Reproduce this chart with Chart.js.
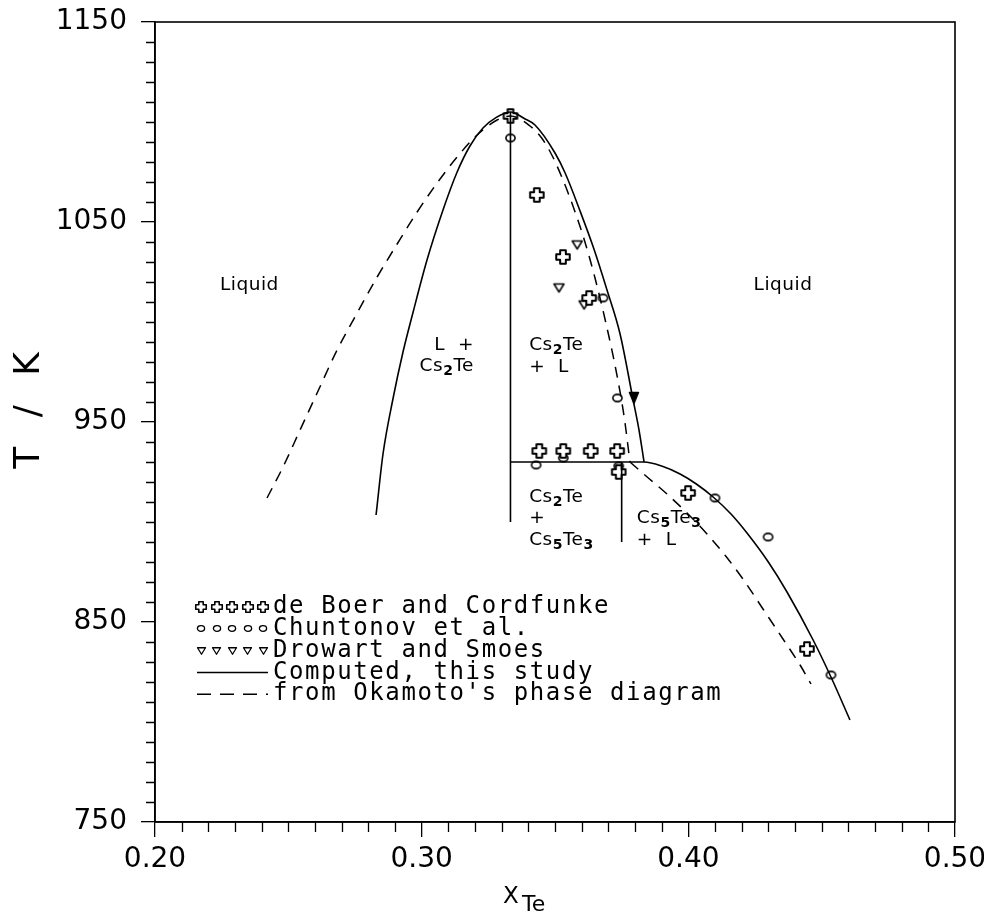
<!DOCTYPE html>
<html><head><meta charset="utf-8">
<script src="https://cdn.jsdelivr.net/npm/chart.js@4.4.1/dist/chart.umd.min.js"></script>
<style>html,body{margin:0;padding:0;background:#fff}</style>
</head><body>
<canvas id="c" width="984" height="913" style="width:984px;height:913px;display:block"></canvas>
<script>
// ---------------- data (x = mole fraction Te, T in K) ----------------
const computedCs2TeX = [0.2829,0.2855,0.2893,0.2930,0.2968,0.3020,0.3080,0.3133,0.3181,0.3230,0.3280,0.3333,0.3388,0.3425,0.3500,0.3538,0.3594,0.3646,0.3695,0.3744,0.3793,0.3815,0.3834];
const computedCs2TeT = [903.5,934,962,985,1005,1031,1056,1075,1088,1097,1102.3,1105,1101.5,1098.5,1084.5,1074.5,1055.5,1036.5,1016,994,961,946,930];
const computedCs5Te3X = [0.3333,0.3834,0.3900,0.3969,0.4030,0.4093,0.4160,0.4220,0.4300,0.4370,0.4468,0.4540,0.4606];
const computedCs5Te3T = [930,930,928,924,919,912.5,904,894.5,880,865,841,821,801];
const cs2TeLineX = [0.3333,0.3333];
const cs2TeLineT = [1105,900];
const cs5Te3LineX = [0.3750,0.3750];
const cs5Te3LineT = [930,890];
const okamotoCs2TeX = [0.2420,0.2480,0.2544,0.2608,0.2683,0.2758,0.2833,0.2908,0.2983,0.3058,0.3133,0.3208,0.3283,0.3333,0.3406,0.3450,0.3490,0.3530,0.3570,0.3610,0.3650,0.3690,0.3730,0.3760,0.3781];
const okamotoCs2TeT = [912,927.5,946,964.5,986,1004.5,1022.5,1039,1055,1069.5,1082.5,1093.5,1101,1103,1098,1092,1083,1071,1057,1041,1022,1000,975,952,930];
const okamotoCs5Te3X = [0.3781,0.3850,0.3920,0.3995,0.4070,0.4140,0.4210,0.4280,0.4355,0.4419,0.4460];
const okamotoCs5Te3T = [930,922,914,904.5,894,883,870.5,856.5,841.5,828.5,819];
const deBoerX = [0.3333,0.3432,0.3530,0.3628,0.3441,0.3531,0.3634,0.3733,0.3739,0.3999,0.4445];
const deBoerT = [1103,1063.5,1032.5,1012,935.5,935.5,935.5,935.5,925,914.5,836.5];
const chuntonovX = [0.3333,0.3680,0.3734,0.3429,0.3531,0.3739,0.4100,0.4299,0.4535];
const chuntonovT = [1092,1012,962,928.5,932,928,912,892.5,823.5];
const drowartX = [0.3583,0.3515,0.3609,0.3796];
const drowartT = [1038.5,1017,1008.5,962];
const drowartSolidIndex = 3;
const xTickValues = [0.20,0.30,0.40,0.50];
const xTickLabels = ['0.20','0.30','0.40','0.50'];
const yTickValues = [750,850,950,1050,1150];
const yTickLabels = ['750','850','950','1050','1150'];
const legendLabels = ['de Boer and Cordfunke','Chuntonov et al.','Drowart and Smoes','Computed, this study',"from Okamoto's phase diagram"];
const regionText = ['Liquid','Liquid','L  +','Cs_2Te','Cs_2Te','+  L','Cs_2Te','+','Cs_5Te_3','Cs_5Te_3','+  L'];
const regionX = [0.2354,0.4355,0.3196,0.3196,0.3403,0.3403,0.3403,0.3403,0.3403,0.3807,0.3807];
const regionT = [1018.5,1018.5,988.5,978,988.5,977.5,912.5,902,891,902,891];
const regionAlign = ['center','center','right','right','left','left','left','left','left','left','left'];

// ---------------- helpers ----------------
const FONT = "'DejaVu Sans', 'Liberation Sans', sans-serif";
const MONO = "'DejaVu Sans Mono', 'DejaVu Sans', monospace";
const pts = (xs, ts) => xs.map((x, i) => ({x: x, y: ts[i]}));

function makeCross(size, lw) {
  const s = Math.ceil(size + lw * 2 + 2), c = document.createElement('canvas');
  c.width = c.height = s;
  const g = c.getContext('2d'), m = s / 2, b = size / 2, a = size * 0.21;
  g.beginPath();
  g.moveTo(m - a, m - b); g.lineTo(m + a, m - b); g.lineTo(m + a, m - a); g.lineTo(m + b, m - a);
  g.lineTo(m + b, m + a); g.lineTo(m + a, m + a); g.lineTo(m + a, m + b); g.lineTo(m - a, m + b);
  g.lineTo(m - a, m + a); g.lineTo(m - b, m + a); g.lineTo(m - b, m - a); g.lineTo(m - a, m - a);
  g.closePath(); g.fillStyle = '#fff'; g.fill();
  g.lineJoin = 'round'; g.lineWidth = lw; g.strokeStyle = '#000'; g.stroke();
  return c;
}
function makeCircle(rx, ry, lw) {
  const w = Math.ceil(rx * 2 + lw * 2 + 2), h = Math.ceil(ry * 2 + lw * 2 + 2), c = document.createElement('canvas');
  c.width = w; c.height = h;
  const g = c.getContext('2d');
  g.beginPath(); g.ellipse(w / 2, h / 2, rx, ry, 0, 0, Math.PI * 2);
  g.fillStyle = '#fff'; g.fill(); g.lineWidth = lw; g.strokeStyle = '#000'; g.stroke();
  return c;
}
function makeTriangle(w0, h0, lw, filled) {
  const w = Math.ceil(w0 + lw * 2 + 2), h = Math.ceil(h0 + lw * 2 + 2), c = document.createElement('canvas');
  c.width = w; c.height = h;
  const g = c.getContext('2d');
  g.beginPath(); g.moveTo(w / 2 - w0 / 2, h / 2 - h0 / 2); g.lineTo(w / 2 + w0 / 2, h / 2 - h0 / 2); g.lineTo(w / 2, h / 2 + h0 / 2); g.closePath();
  g.fillStyle = filled ? '#000' : '#fff'; g.fill(); g.lineJoin = 'round'; g.lineWidth = lw; g.strokeStyle = '#000'; g.stroke();
  return c;
}
const crossImg = makeCross(13.5, 2), circleImg = makeCircle(4.6, 3.6, 1.6);
const triImg = makeTriangle(10, 8, 1.5, false), triSolidImg = makeTriangle(9, 11, 1.5, true);
const crossLeg = makeCross(10.5, 1.6), circleLeg = makeCircle(3.6, 2.8, 1.3), triLeg = makeTriangle(8, 6.5, 1.3, false);

function drawRich(ctx, text, x, y, size, align) {
  const parts = [];
  text.split(/(_\d)/).forEach(p => { if (!p) return; if (p[0] === '_') parts.push({t: p.slice(1), sub: true}); else parts.push({t: p, sub: false}); });
  const subSize = Math.round(size * 0.76);
  let total = 0;
  parts.forEach(p => { ctx.font = (p.sub ? '600 ' + subSize : size) + 'px ' + FONT; p.w = ctx.measureText(p.t).width; total += p.w; });
  let cx = align === 'center' ? x - total / 2 : align === 'right' ? x - total : x;
  parts.forEach(p => {
    ctx.font = (p.sub ? '600 ' + subSize : size) + 'px ' + FONT;
    ctx.fillText(p.t, cx, p.sub ? y + size * 0.3 : y);
    cx += p.w;
  });
}

const phasePlugin = {
  id: 'phase',
  afterDraw(chart) {
    const ctx = chart.ctx, ca = chart.chartArea, xs = chart.scales.x, ys = chart.scales.y;
    ctx.save();
    ctx.strokeStyle = '#000'; ctx.fillStyle = '#000';
    // frame
    ctx.lineWidth = 1.6;
    ctx.strokeRect(ca.left, ca.top, ca.right - ca.left, ca.bottom - ca.top);
    // minor ticks
    ctx.lineWidth = 1.3; ctx.beginPath();
    for (let v = 760; v < 1150; v += 10) {
      if ((v - 750) % 100 === 0) continue;
      const py = Math.round(ys.getPixelForValue(v)) + 0.5;
      ctx.moveTo(ca.left - 9, py); ctx.lineTo(ca.left, py);
    }
    for (let i = 21; i < 50; i++) {
      if (i % 10 === 0) continue;
      const px = Math.round(xs.getPixelForValue(i / 100)) + 0.5;
      ctx.moveTo(px, ca.bottom); ctx.lineTo(px, ca.bottom + 10);
    }
    ctx.stroke();
    // region labels
    ctx.textBaseline = 'middle'; ctx.letterSpacing = '0.5px';
    regionText.forEach((t, i) => {
      drawRich(ctx, t, xs.getPixelForValue(regionX[i]), ys.getPixelForValue(regionT[i]), 18.5, regionAlign[i]);
    });
    // legend
    const lx0 = ca.left + 46, lstep = 15.5, ly0 = ca.top + 585, lrow = 21.8, tx = ca.left + 118;
    const imgs = [crossLeg, circleLeg, triLeg];
    for (let r = 0; r < 5; r++) {
      const y = ly0 + r * lrow;
      if (r < 3) {
        const im = imgs[r];
        for (let k = 0; k < 5; k++) ctx.drawImage(im, Math.round(lx0 + k * lstep - im.width / 2), Math.round(y - im.height / 2));
      } else {
        ctx.lineWidth = 1.5; ctx.setLineDash(r === 4 ? [14, 9] : []);
        ctx.beginPath(); ctx.moveTo(lx0 - 4, y); ctx.lineTo(lx0 + 4 * lstep + 5, y); ctx.stroke();
        ctx.setLineDash([]);
      }
      ctx.letterSpacing = '1.6px';
      ctx.font = '24px ' + MONO; ctx.textAlign = 'left'; ctx.textBaseline = 'middle';
      ctx.fillText(legendLabels[r], tx, y);
    }
    // axis titles
    ctx.letterSpacing = '9px';
    ctx.font = '36px ' + FONT; ctx.textAlign = 'center'; ctx.textBaseline = 'middle';
    ctx.save(); ctx.translate(30, 410); ctx.rotate(-Math.PI / 2); ctx.fillText('T / K', 4, 0); ctx.restore();
    ctx.letterSpacing = '0px';
    ctx.textAlign = 'left'; ctx.textBaseline = 'alphabetic';
    ctx.font = '23px ' + FONT; ctx.fillText('X', 503, 903);
    ctx.font = '22px ' + FONT; ctx.fillText('Te', 522, 911);
    ctx.restore();
  }
};

const zeroPad = s => { s.paddingTop = 0; s.paddingBottom = 0; s.paddingLeft = 0; s.paddingRight = 0; };
const lineBase = {showLine: true, borderColor: '#000', borderWidth: 1.6, pointRadius: 0, fill: false};
new Chart(document.getElementById('c'), {
  type: 'scatter',
  data: {
    datasets: [
      Object.assign({label: 'Computed Cs2Te liquidus', data: pts(computedCs2TeX, computedCs2TeT), cubicInterpolationMode: 'monotone'}, lineBase),
      Object.assign({label: 'Computed eutectic / Cs5Te3 liquidus', data: pts(computedCs5Te3X, computedCs5Te3T), cubicInterpolationMode: 'monotone'}, lineBase),
      Object.assign({label: 'Cs2Te', data: pts(cs2TeLineX, cs2TeLineT), tension: 0}, lineBase),
      Object.assign({label: 'Cs5Te3', data: pts(cs5Te3LineX, cs5Te3LineT), tension: 0}, lineBase),
      Object.assign({label: "Okamoto Cs2Te", data: pts(okamotoCs2TeX, okamotoCs2TeT), cubicInterpolationMode: 'monotone', borderDash: [11, 8]}, lineBase, {borderWidth: 1.5}),
      Object.assign({label: "Okamoto Cs5Te3", data: pts(okamotoCs5Te3X, okamotoCs5Te3T), cubicInterpolationMode: 'monotone', borderDash: [11, 8]}, lineBase, {borderWidth: 1.5}),
      {label: 'de Boer and Cordfunke', data: pts(deBoerX, deBoerT), showLine: false, pointStyle: crossImg, pointRadius: 6},
      {label: 'Chuntonov et al.', data: pts(chuntonovX, chuntonovT), showLine: false, pointStyle: circleImg, pointRadius: 5},
      {label: 'Drowart and Smoes', data: pts(drowartX, drowartT), showLine: false, pointStyle: c => c.dataIndex === drowartSolidIndex ? triSolidImg : triImg, pointRadius: 5}
    ]
  },
  options: {
    responsive: false, animation: false, devicePixelRatio: 1,
    layout: {padding: {top: 22, right: 29, left: 0, bottom: 0}},
    plugins: {legend: {display: false}, tooltip: {enabled: false}},
    scales: {
      x: {
        type: 'linear', min: 0.2, max: 0.5,
        afterBuildTicks: s => { s.ticks = xTickValues.map(v => ({value: v})); },
        afterFit: s => { s.height = 91; zeroPad(s); },
        ticks: {callback: (v, i) => xTickLabels[i], color: '#000', font: {family: FONT, size: 28}, padding: 6, maxRotation: 0, autoSkip: false},
        grid: {drawOnChartArea: false, drawTicks: true, tickLength: 15, color: '#000', lineWidth: 1.3},
        border: {display: true, color: '#000', width: 1.6}
      },
      y: {
        type: 'linear', min: 750, max: 1150,
        afterBuildTicks: s => { s.ticks = yTickValues.map(v => ({value: v})); },
        afterFit: s => { s.width = 155; zeroPad(s); },
        ticks: {callback: (v, i) => yTickLabels[i], color: '#000', font: {family: FONT, size: 28}, padding: 14, autoSkip: false},
        grid: {drawOnChartArea: false, drawTicks: true, tickLength: 14, color: '#000', lineWidth: 1.3},
        border: {display: true, color: '#000', width: 1.6}
      }
    }
  },
  plugins: [phasePlugin]
});
</script>
</body></html>
